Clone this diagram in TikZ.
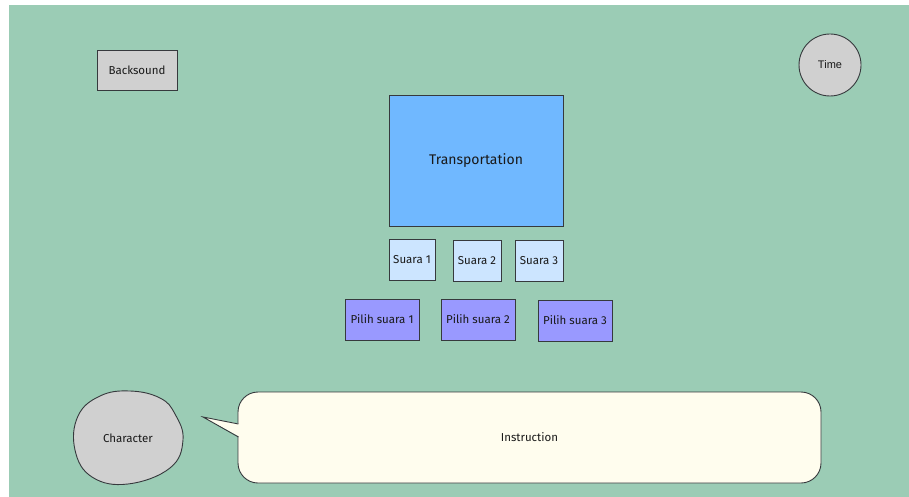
\documentclass[tikz,border=0pt]{standalone}
\usepackage{fontspec}
\setmainfont{Liberation Sans}
\newfontfamily\casual{Fira Sans}
\definecolor{bggreen}{HTML}{9BCCB5}
\definecolor{edge}{HTML}{36393D}
\definecolor{greyfill}{HTML}{D0D0D0}
\definecolor{bigblue}{HTML}{70B8FF}
\definecolor{paleblue}{HTML}{CCE5FF}
\definecolor{violet}{HTML}{9999FF}
\definecolor{cream}{HTML}{FFFDEE}
\tikzset{
  box/.style={draw=edge, line width=0.9pt, inner sep=0pt, font=\casual\fontsize{11.5}{13}\selectfont, text=black!90},
  soundbtn/.style={box, fill=paleblue, minimum width=47pt, minimum height=41pt},
  pickbtn/.style={box, fill=violet, minimum width=74pt, minimum height=41pt},
}
\begin{document}
\begin{tikzpicture}[x=1pt,y=-1pt]
\useasboundingbox (0,0) rectangle (909,497);
\fill[white] (0,0) rectangle (909,497);
\fill[bggreen] (9,5) rectangle (909,497);

% header items
\node[box, fill=greyfill, minimum width=80pt, minimum height=40pt] (backsound) at (137,70) {Backsound};
\node[box, circle, fill=greyfill, minimum size=62pt, font=\fontsize{11}{12}\selectfont] (time) at (830,65) {Time};

% main picture area
\node[box, fill=bigblue, minimum width=174pt, minimum height=131pt, font=\casual\fontsize{14}{16}\selectfont] (transport) at (476,160.5) {Transportation};

% sound buttons
\node[soundbtn, minimum width=46pt] (s1) at (412,260) {Suara 1};
\node[soundbtn, minimum width=48pt] (s2) at (477,260.5) {Suara 2};
\node[soundbtn, minimum width=48pt] (s3) at (539,260.5) {Suara 3};

% answer buttons
\node[pickbtn] (p1) at (382,319.5) {Pilih suara 1};
\node[pickbtn] (p2) at (478,319.5) {Pilih suara 2};
\node[pickbtn] (p3) at (575,320.5) {Pilih suara 3};

% character blob
\draw[edge, line width=0.9pt, fill=greyfill]
  plot[smooth cycle, tension=0.7] coordinates {
    (130,391) (160,398) (175,414) (183,440) (170,468)
    (128,484) (92,477) (75,450) (78,416) (100,396)};
\node[box, draw=none] (character) at (128,438) {Character};

% speech bubble
\node[box, fill=cream, rounded corners=20pt, minimum width=583pt, minimum height=91pt] (instr) at (529.5,437.5) {Instruction};
\coordinate (tip) at (203,417);
\fill[cream] (tip) -- (240,424) -- (240,437) -- cycle;
\draw[edge, line width=0.9pt] (238.45,424) -- (tip) -- (238.45,437);
\end{tikzpicture}
\end{document}
